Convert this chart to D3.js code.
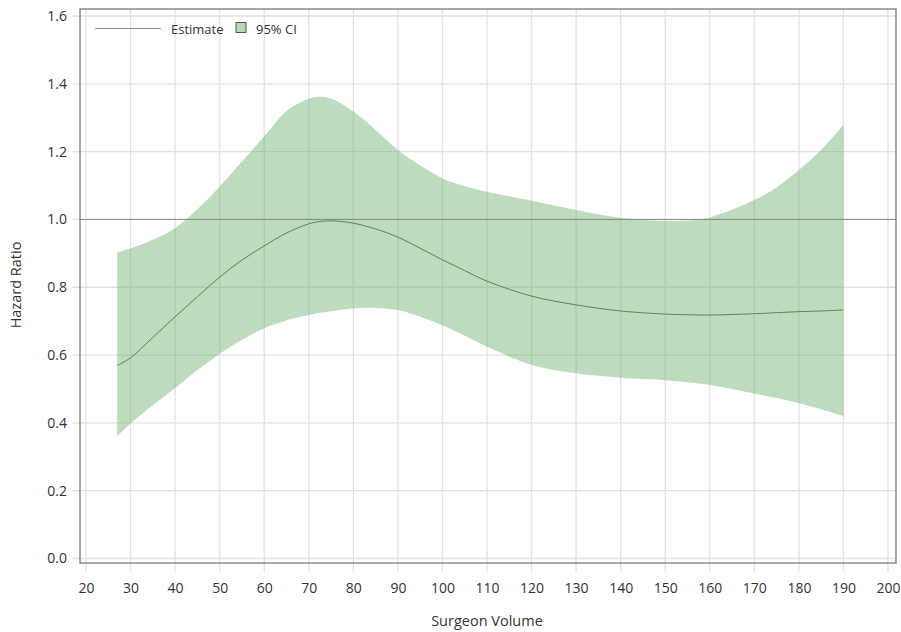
<!DOCTYPE html>
<html><head><meta charset="utf-8">
<script src="https://cdn.jsdelivr.net/npm/d3@7"></script>
<style>body{margin:0;background:#fff;} svg{display:block;font-family:"Open Sans","Noto Sans",sans-serif;}</style>
</head><body>
<svg id="c" width="901" height="632"></svg>
<script>
const volume = [27,30,35,40,45,50,55,60,65,70,72,75,80,85,90,95,100,105,110,120,130,140,150,155,160,170,175,180,185,190];
const estimate = [.569,.592,.652,.713,.772,.830,.880,.922,.960,.987,.993,.996,.989,.972,.948,.915,.881,.849,.818,.774,.748,.730,.721,.719,.718,.722,.725,.728,.730,.733];
const lowerCI = [.361,.398,.452,.503,.556,.604,.645,.679,.702,.718,.723,.729,.737,.739,.733,.713,.688,.657,.625,.571,.546,.533,.526,.520,.512,.487,.473,.458,.440,.420];
const upperCI = [.903,.915,.940,.975,1.030,1.097,1.171,1.245,1.320,1.356,1.362,1.357,1.318,1.264,1.205,1.160,1.121,1.098,1.082,1.055,1.028,1.005,.996,.997,1.006,1.057,1.095,1.146,1.205,1.279];
const xTicks = [20,30,40,50,60,70,80,90,100,110,120,130,140,150,160,170,180,190,200];
const yTicks = [0.0,0.2,0.4,0.6,0.8,1.0,1.2,1.4,1.6];
const refValue = 1.0;

const svg = d3.select("#c");
const frame = {l:80, r:896, t:9, b:563};
const x = d3.scaleLinear().domain([20,200]).range([86,888]);
const y = d3.scaleLinear().domain([0,1.6]).range([558.5,16]);

const grid = svg.append("g");
grid.selectAll("line.v").data(xTicks).join("line")
  .attr("x1",d=>x(d)).attr("x2",d=>x(d)).attr("y1",frame.t).attr("y2",frame.b+9)
  .attr("stroke","#e2e2e2").attr("stroke-width",1.3);
grid.selectAll("line.h").data(yTicks).join("line")
  .attr("x1",frame.l-8).attr("x2",frame.r).attr("y1",d=>y(d)).attr("y2",d=>y(d))
  .attr("stroke","#e2e2e2").attr("stroke-width",1.3);

const data = volume.map((v,i)=>({v, e:estimate[i], lo:lowerCI[i], hi:upperCI[i]}));
const curve = d3.curveCatmullRom.alpha(0.5);

svg.append("path").datum(data)
  .attr("d", d3.area().x(d=>x(d.v)).y0(d=>y(d.lo)).y1(d=>y(d.hi)).curve(curve))
  .attr("fill","#6fb06f").attr("fill-opacity",0.46);

svg.append("line").attr("x1",frame.l).attr("x2",frame.r).attr("y1",y(refValue)).attr("y2",y(refValue))
  .attr("stroke","#8a8a8a").attr("stroke-width",1);

svg.append("path").datum(data)
  .attr("d", d3.line().x(d=>x(d.v)).y(d=>y(d.e)).curve(curve))
  .attr("fill","none").attr("stroke","#4e8c4e").attr("stroke-width",1);

svg.append("rect").attr("x",frame.l).attr("y",frame.t).attr("width",frame.r-frame.l).attr("height",frame.b-frame.t)
  .attr("fill","none").attr("stroke","#7a7a7a").attr("stroke-width",1.3);

const xAxis = d3.axisBottom(x).tickValues(xTicks).tickSize(0).tickPadding(0).tickFormat(d3.format("d"));
const gx = svg.append("g").attr("transform",`translate(0,${frame.b})`).call(xAxis);
gx.select(".domain").remove();
gx.selectAll("text").attr("y",20).attr("dy","0.71em").attr("font-size",14).attr("fill","#333")
  .attr("font-family","'Open Sans','Noto Sans',sans-serif");

const yAxis = d3.axisLeft(y).tickValues(yTicks).tickSize(0).tickPadding(0).tickFormat(d3.format(".1f"));
const gy = svg.append("g").attr("transform",`translate(${frame.l},0)`).call(yAxis);
gy.select(".domain").remove();
gy.selectAll("text").attr("x",-13).attr("font-size",14).attr("fill","#333")
  .attr("font-family","'Open Sans','Noto Sans',sans-serif");

svg.append("text").attr("x",487).attr("y",626).attr("text-anchor","middle")
  .attr("font-size",14.5).attr("fill","#333").text("Surgeon Volume");
svg.append("text").attr("transform","translate(21,285) rotate(-90)").attr("text-anchor","middle")
  .attr("font-size",14.5).attr("fill","#333").text("Hazard Ratio");

const lg = svg.append("g");
lg.append("line").attr("x1",95).attr("x2",161).attr("y1",28.5).attr("y2",28.5).attr("stroke","#6aa86a").attr("stroke-width",1);
lg.append("text").attr("x",171).attr("y",33.5).attr("font-size",13).attr("fill","#333").text("Estimate");
lg.append("rect").attr("x",236).attr("y",22.5).attr("width",10).attr("height",10)
  .attr("fill","#b9d7b9").attr("stroke","#555").attr("stroke-width",1);
lg.append("text").attr("x",256).attr("y",33.5).attr("font-size",13).attr("fill","#333").text("95% CI");
</script>
</body></html>
